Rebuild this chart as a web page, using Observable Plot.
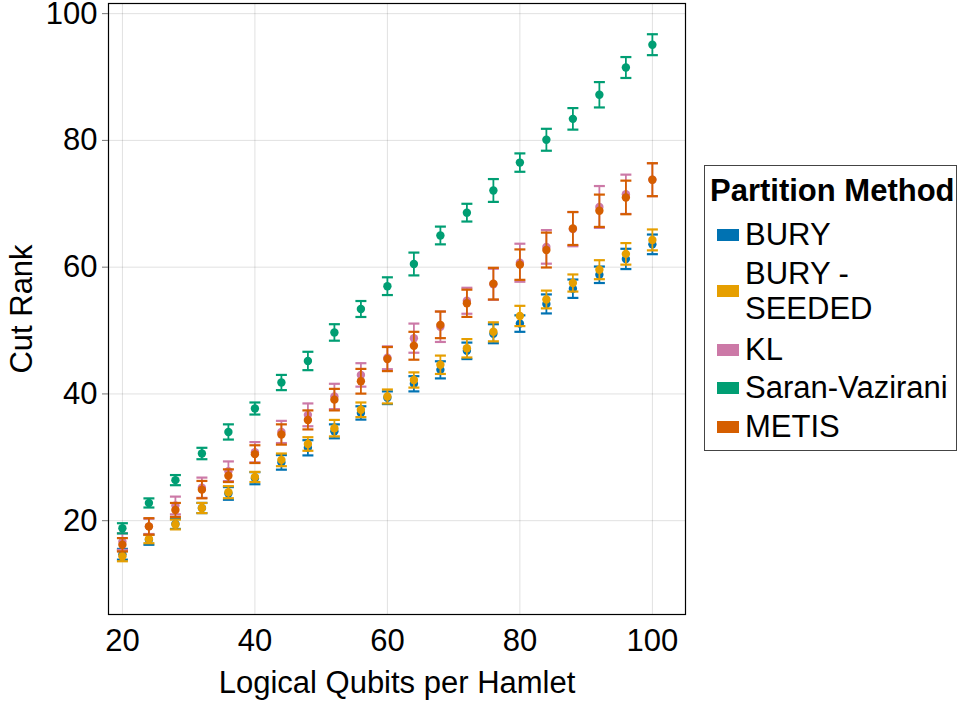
<!DOCTYPE html>
<html>
<head>
<meta charset="utf-8">
<script src="https://cdn.jsdelivr.net/npm/d3@7"></script>
<script src="https://cdn.jsdelivr.net/npm/@observablehq/plot@0.6"></script>
<style>
  html, body { margin: 0; padding: 0; background: #fff; }
  #wrap { position: relative; width: 959px; height: 701px; overflow: hidden; }
  #legend { position: absolute; left: 704px; top: 165px; width: 253px; height: 286px;
    border: 1.5px solid #444; background: #fff; font-family: "Liberation Sans", Arial, sans-serif;
    font-size: 31px; color: #000; box-sizing: border-box; }
  #legend .title { position: absolute; left: 5px; font-weight: bold; white-space: nowrap; }
  #legend .item { position: absolute; left: 0; display: flex; align-items: center; line-height: 35px; white-space: nowrap; }
  #legend .sw { width: 22px; height: 12px; margin-left: 12px; margin-right: 6px; }
</style>
</head>
<body>
<div id="wrap"></div>
<script>
const xs = [20, 24, 28, 32, 36, 40, 44, 48, 52, 56, 60, 64, 68, 72, 76, 80, 84, 88, 92, 96, 100];

const methods = ["BURY", "BURY - SEEDED", "KL", "Saran-Vazirani", "METIS"];
const legendLabels = ["BURY", "BURY -<br>SEEDED", "KL", "Saran-Vazirani", "METIS"];
const palette = ["#0072B2", "#E69F00", "#CC79A7", "#009E73", "#D55E00"];

const buryMean = [14.7, 17.0, 19.5, 22.0, 24.3, 26.7, 29.2, 31.5, 34.1, 37.0, 39.4, 41.6, 43.8, 46.8, 49.5, 51.1, 54.2, 56.6, 58.8, 61.3, 63.6];
const buryErr  = [0.85, 0.8, 0.8, 0.8, 1.0, 0.95, 1.15, 1.2, 1.1, 1.05, 1.0, 1.2, 1.35, 1.3, 1.5, 1.3, 1.5, 1.45, 1.3, 1.6, 1.55];

const seededMean = [14.4, 17.1, 19.4, 22.0, 24.5, 26.9, 29.6, 32.1, 34.6, 37.5, 39.6, 42.2, 44.6, 47.2, 49.8, 52.3, 54.9, 57.5, 59.6, 62.1, 64.3];
const seededErr  = [0.8, 0.65, 0.77, 0.8, 0.95, 0.8, 1.0, 1.07, 1.3, 1.15, 1.1, 1.2, 1.45, 1.45, 1.5, 1.6, 1.4, 1.35, 1.5, 1.7, 1.65];

const klMean = [16.7, 19.1, 22.4, 25.2, 27.8, 30.8, 34.0, 36.7, 39.6, 43.0, 45.7, 48.8, 50.6, 54.7, 57.3, 60.7, 63.2, 66.0, 69.5, 71.5, 73.8];
const klErr  = [1.3, 1.2, 1.4, 1.6, 1.55, 1.6, 1.75, 1.8, 2.0, 1.85, 1.8, 2.3, 2.4, 2.05, 2.45, 3.0, 2.65, 2.7, 3.3, 3.1, 2.6];

const svMean = [18.8, 22.8, 26.4, 30.6, 34.0, 37.7, 41.8, 45.2, 49.7, 53.4, 57.0, 60.5, 65.0, 68.6, 72.1, 76.5, 80.1, 83.4, 87.2, 91.5, 95.1];
const svErr  = [0.8, 0.72, 0.8, 0.9, 1.2, 0.95, 1.2, 1.45, 1.3, 1.26, 1.4, 1.8, 1.4, 1.4, 1.8, 1.45, 1.73, 1.7, 2.0, 1.65, 1.65];

const metisMean = [16.2, 19.1, 21.7, 24.9, 27.1, 30.5, 33.6, 35.9, 39.1, 42.0, 45.5, 47.6, 50.9, 54.3, 57.4, 60.4, 62.7, 66.1, 68.9, 71.0, 73.8];
const metisErr  = [1.05, 1.3, 1.1, 1.37, 1.0, 1.4, 1.6, 1.5, 1.7, 1.95, 1.9, 2.2, 2.1, 2.15, 2.5, 2.4, 2.75, 2.6, 2.55, 2.65, 2.6];

const ticks = [20, 40, 60, 80, 100];

const seriesMeans = [buryMean, seededMean, klMean, svMean, metisMean];
const seriesErrs = [buryErr, seededErr, klErr, svErr, metisErr];

const tables = methods.map((m, s) => xs.map((x, i) => ({
  method: m, x, y: seriesMeans[s][i],
  lo: seriesMeans[s][i] - seriesErrs[s][i],
  hi: seriesMeans[s][i] + seriesErrs[s][i]
})));

const capSymbol = { draw(ctx) { ctx.moveTo(-5.5, 0); ctx.lineTo(5.5, 0); } };
const font = '"Liberation Sans", Arial, sans-serif';

const seriesMarks = tables.flatMap(t => [
  Plot.ruleX(t, {x: "x", y1: "lo", y2: "hi", stroke: "method", strokeWidth: 1.8}),
  Plot.dot(t, {x: "x", y: "lo", symbol: capSymbol, stroke: "method", fill: "none", strokeWidth: 2.2, r: 5}),
  Plot.dot(t, {x: "x", y: "hi", symbol: capSymbol, stroke: "method", fill: "none", strokeWidth: 2.2, r: 5}),
  Plot.dot(t, {x: "x", y: "y", fill: "method", stroke: "none", r: 4.2})
]);

const chart = Plot.plot({
  width: 959,
  height: 701,
  marginLeft: 108,
  marginRight: 274,
  marginTop: 3,
  marginBottom: 87,
  style: {fontFamily: font, fontSize: "31px", color: "#000", background: "#fff", overflow: "visible"},
  x: {domain: [17.9, 105.0]},
  y: {domain: [5.2, 101.6]},
  color: {domain: methods, range: palette},
  marks: [
    Plot.gridX(ticks, {stroke: "#000", strokeOpacity: 0.12, strokeWidth: 1}),
    Plot.gridY(ticks, {stroke: "#000", strokeOpacity: 0.12, strokeWidth: 1}),
    ...seriesMarks,
    Plot.frame({stroke: "#000", strokeWidth: 1.2}),
    Plot.axisY(ticks, {tickSize: 6, tickPadding: 5, fontSize: 31, stroke: "#777", label: null, tickFormat: d => String(d)}),
    Plot.axisX(ticks, {tickSize: 0, tickPadding: 14, fontSize: 31, label: null, tickFormat: d => String(d)}),
    Plot.text(["Logical Qubits per Hamlet"], {frameAnchor: "bottom", textAnchor: "middle", lineAnchor: "middle", dy: 69, fontSize: 31, fill: "#000"}),
    Plot.text(["Cut Rank"], {frameAnchor: "left", textAnchor: "middle", lineAnchor: "middle", rotate: -90, dx: -86, fontSize: 31, fill: "#000"})
  ]
});

const wrap = document.getElementById("wrap");
wrap.appendChild(chart);

// Legend
const legend = document.createElement("div");
legend.id = "legend";
const title = document.createElement("div");
title.className = "title";
title.textContent = "Partition Method";
title.style.top = "7px";
legend.appendChild(title);
const centers = [70, 126, 185, 223, 262];
methods.forEach((m, i) => {
  const item = document.createElement("div");
  item.className = "item";
  const two = legendLabels[i].includes("<br>");
  const h = two ? 70 : 35;
  item.style.top = (centers[i] - h / 2 - 1.5) + "px";
  item.style.height = h + "px";
  const sw = document.createElement("div");
  sw.className = "sw";
  sw.style.background = palette[i];
  const lab = document.createElement("div");
  lab.innerHTML = legendLabels[i];
  item.appendChild(sw);
  item.appendChild(lab);
  legend.appendChild(item);
});
wrap.appendChild(legend);
</script>
</body>
</html>
